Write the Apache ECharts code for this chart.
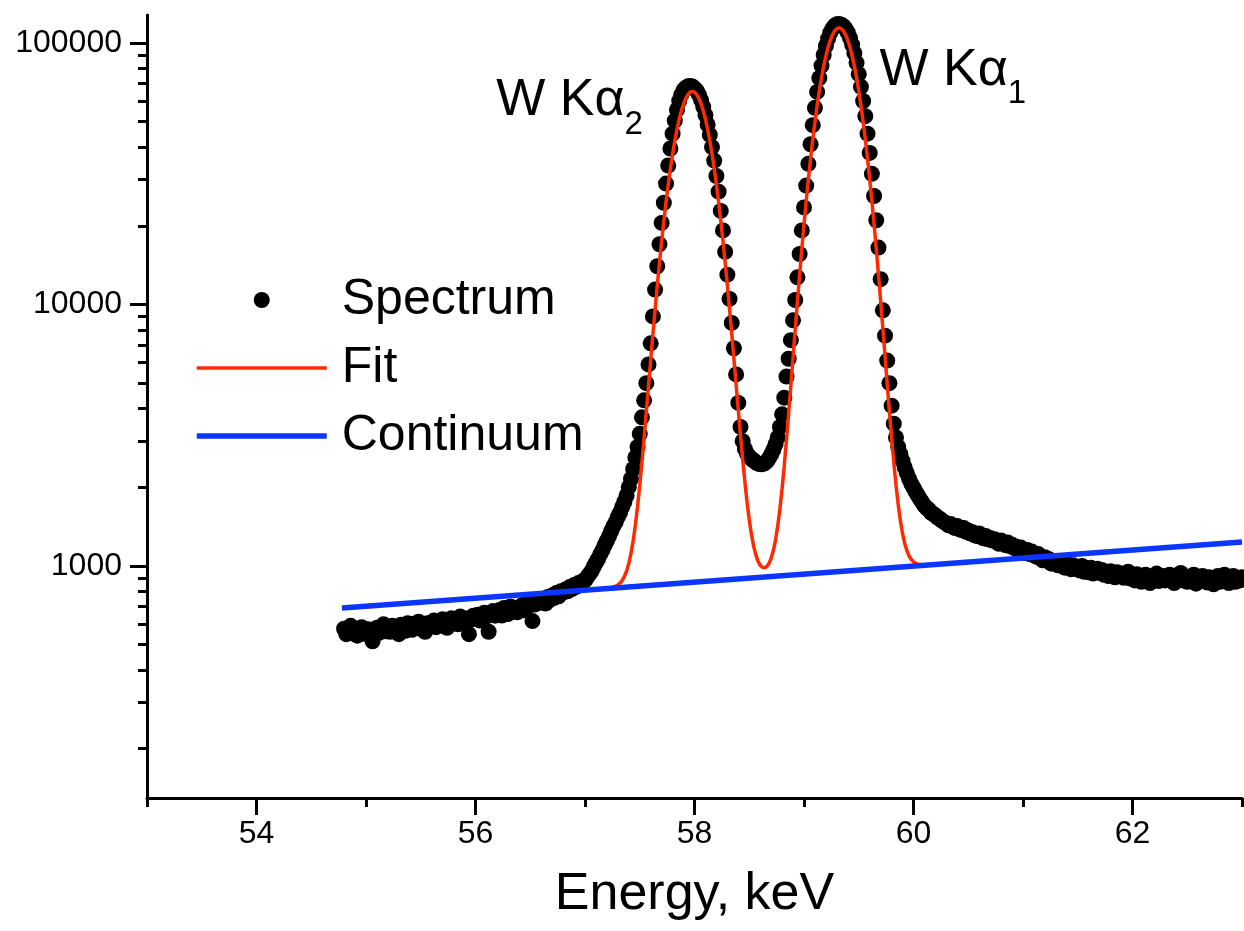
<!DOCTYPE html>
<html><head><meta charset="utf-8">
<script src="https://cdn.jsdelivr.net/npm/echarts@6/dist/echarts.min.js"></script>
<style>html,body{margin:0;padding:0;background:#fff}#c{width:1244px;height:931px}</style>
</head><body><div id="c"></div>
<script>
const FONT = '"Liberation Sans", Arial, Helvetica, sans-serif';

// ---- axis ticks ----
const xTickValues = [54, 56, 58, 60, 62];
const xMinorTickValues = [53, 55, 57, 59, 61, 63];
const yTickValues = [1000, 10000, 100000];
const yMinorTickValues = [200, 300, 400, 500, 600, 700, 800, 900,
  2000, 3000, 4000, 5000, 6000, 7000, 8000, 9000,
  20000, 30000, 40000, 50000, 60000, 70000, 80000, 90000];

// ---- measured spectrum (channel calibration: start energy + channel width, keV) ----
const spectrumStart = 54.80;
const spectrumStep = 0.02;
const spectrumCounts = [
  575, 548, 560, 590, 552, 566, 541, 570, 583, 557,
  549, 572, 560, 515, 568, 580, 555, 571, 598, 562,
  578, 560, 590, 571, 583, 548, 596, 577, 565, 604,
  588, 570, 601, 585, 612, 575, 592, 560, 603, 590,
  596, 618, 583, 605, 592, 625, 601, 580, 614, 630,
  606, 622, 598, 640, 615, 630, 608, 548, 625, 645,
  628, 650, 618, 636, 662, 640, 560, 655, 672, 645,
  660, 678, 646, 690, 668, 655, 700, 672, 688, 665,
  690, 705, 676, 718, 700, 728, 615, 712, 735, 722,
  730, 745, 718, 760, 742, 770, 755, 788, 765, 800,
  790, 812, 800, 830, 815, 845, 832, 860, 850, 875,
  880, 905, 930, 955, 995, 1030, 1065, 1110, 1150, 1200,
  1250, 1300, 1360, 1420, 1470, 1540, 1600, 1680, 1760, 1860,
  2000, 2150, 2350, 2600, 2850, 3200, 3700, 4300, 5000, 5900,
  7100, 9000, 11400, 14000, 17000, 20500, 24500, 29000, 34000, 39500,
  45000, 50500, 55500, 60000, 63500, 66000, 67500, 68300, 68500, 68200,
  67000, 65800, 63500, 60500, 57000, 53000, 48800, 44500, 40000, 35500,
  31000, 27000, 22800, 19200, 15900, 13000, 10500, 8500, 6800, 5400,
  4200, 3400, 3000, 2800, 2690, 2620, 2570, 2530, 2490, 2460,
  2450, 2450, 2470, 2510, 2580, 2670, 2780, 2920, 3100, 3400,
  3800, 4400, 5300, 6200, 7300, 8700, 10400, 12700, 15600, 19200,
  23500, 28500, 34500, 41000, 48500, 56500, 65000, 73500, 82000, 90000,
  97500, 104000, 109500, 113500, 116500, 118000, 118300, 117500, 116000, 113300,
  109500, 104500, 98500, 91500, 84000, 76000, 68000, 60000, 52500, 45000,
  38000, 31600, 26000, 21000, 16500, 12500, 9500, 7600, 6100, 5000,
  4100, 3500, 3100, 2850, 2680, 2520, 2380, 2260, 2150, 2060,
  1990, 1920, 1860, 1800, 1750, 1700, 1665, 1640, 1600, 1580,
  1560, 1530, 1515, 1490, 1470, 1455, 1430, 1445, 1410, 1395,
  1420, 1380, 1370, 1395, 1350, 1365, 1330, 1345, 1310, 1300,
  1330, 1290, 1275, 1300, 1265, 1280, 1250, 1265, 1235, 1215,
  1250, 1220, 1200, 1230, 1190, 1205, 1170, 1185, 1150, 1175,
  1140, 1120, 1150, 1110, 1135, 1100, 1085, 1110, 1070, 1050,
  1080, 1045, 1060, 1020, 1045, 1035, 1005, 1040, 1010, 985,
  1020, 995, 970, 1005, 985, 990, 960, 1000, 950, 975,
  945, 985, 935, 960, 975, 940, 965, 925, 950, 915,
  955, 930, 905, 945, 920, 935, 900, 925, 950, 895,
  915, 880, 930, 905, 870, 900, 925, 885, 860, 910,
  890, 935, 875, 900, 915, 880, 905, 925, 890, 860,
  915, 895, 940, 880, 905, 870, 910, 890, 925, 855,
  900, 880, 915, 895, 865, 905, 880, 850, 895, 915,
  870, 900, 925, 885, 860, 895, 915, 870, 900, 880,
  905
];

// ---- fit curve ----
const fitStart = 57.20;
const fitStep = 0.02;
const fitCounts = [
  820, 822, 826, 830, 836, 846, 860, 881, 911, 957,
  1022, 1116, 1248, 1434, 1689, 2034, 2495, 3102, 3889, 4889,
  6142, 7690, 9566, 11811, 14435, 17452, 20863, 24642, 28748, 33119,
  37652, 42248, 46773, 51100, 55071, 58559, 61421, 63556, 64872, 65318,
  64875, 63561, 61429, 58569, 55084, 51115, 46791, 42269, 37675, 33145,
  28776, 24673, 20897, 17488, 14474, 11852, 9610, 7736, 6191, 4941,
  3943, 3159, 2554, 2096, 1753, 1501, 1320, 1191, 1102, 1043,
  1005, 988, 983, 994, 1021, 1070, 1145, 1256, 1420, 1651,
  1975, 2422, 3030, 3839, 4905, 6290, 8049, 10249, 12972, 16272,
  20218, 24833, 30141, 36139, 42784, 50008, 57695, 65666, 73750, 81711,
  89319, 96304, 102439, 107473, 111227, 113541, 114325, 113544, 111232, 107481,
  102449, 96317, 89334, 81729, 73771, 65689, 57721, 50036, 42815, 36172,
  30177, 24872, 20259, 16316, 13018, 10298, 8101, 6344, 4962, 3898,
  3092, 2487, 2042, 1720, 1490, 1328, 1217, 1142, 1091, 1057,
  1037, 1024, 1015, 1012, 1009, 1008
];

// ---- continuum (straight line on the log plot) ----
const continuumEnergy = [54.78, 63.0];
const continuumCounts = [690, 1235];

// ---- peak labels ----
const peakLabelNames = ['W K|2', 'W K|1'];
const peakLabelEnergy = [56.19, 59.69];
const peakLabelCounts = [60000, 78500];

const toPairs = (start, step, arr) => arr.map((v, i) => [Number((start + i * step).toFixed(3)), v]);
const spectrumData = toPairs(spectrumStart, spectrumStep, spectrumCounts);
const fitData = toPairs(fitStart, fitStep, fitCounts);
const continuumData = continuumEnergy.map((e, i) => [e, continuumCounts[i]]);
const labelData = peakLabelNames.map((n, i) => ({ value: [peakLabelEnergy[i], peakLabelCounts[i]], name: n }));

const chart = echarts.init(document.getElementById('c'), null, { renderer: 'canvas' });
const black = '#000';
const RED = '#ff2a00';
const BLUE = '#0a36ff';
const axisLineStyle = { color: black, width: 3 };
const tickStyle = { color: black, width: 3 };
const tickText = { t: { fontSize: 32, fontFamily: FONT, color: black } };

chart.setOption({
  animation: false,
  backgroundColor: '#fff',
  grid: { left: 147, right: 2, top: 15, bottom: 133, containLabel: false },
  xAxis: [{
    type: 'value', min: 53, max: 63, position: 'bottom',
    axisLine: { show: true, lineStyle: axisLineStyle },
    axisTick: { show: true, customValues: xTickValues, length: 17, lineStyle: tickStyle },
    axisLabel: { customValues: xTickValues, fontSize: 32, color: black, fontFamily: FONT, margin: 20,
      formatter: v => '{t|' + Math.round(v) + '}', rich: tickText },
    splitLine: { show: false },
    name: 'Energy, keV', nameLocation: 'middle', nameGap: 71,
    nameTextStyle: { fontSize: 52, color: black, fontFamily: FONT }
  }, {
    type: 'value', min: 53, max: 63, position: 'bottom',
    axisLine: { show: false },
    axisTick: { show: true, customValues: xMinorTickValues, length: 9, lineStyle: tickStyle },
    axisLabel: { show: false },
    splitLine: { show: false }
  }],
  yAxis: [{
    type: 'log', min: 129.5, max: 128000, position: 'left',
    axisLine: { show: true, lineStyle: axisLineStyle },
    axisTick: { show: true, customValues: yTickValues, length: 17, lineStyle: tickStyle },
    axisLabel: { customValues: yTickValues, fontSize: 32, color: black, fontFamily: FONT, margin: 25,
      formatter: v => '{t|' + Math.round(v) + '}', rich: tickText },
    splitLine: { show: false }, minorTick: { show: false }, minorSplitLine: { show: false }
  }, {
    type: 'log', min: 129.5, max: 128000, position: 'left',
    axisLine: { show: false },
    axisTick: { show: true, customValues: yMinorTickValues, length: 9, lineStyle: tickStyle },
    axisLabel: { show: false },
    splitLine: { show: false }
  }],
  legend: {
    orient: 'vertical', left: 194, top: 275, padding: 0,
    itemWidth: 130, itemHeight: 16, itemGap: 18,
    textStyle: { fontSize: 50, color: black, fontFamily: FONT, lineHeight: 50, padding: [0, 0, 0, 10] },
    data: [
      { name: 'Spectrum', icon: 'circle' },
      { name: 'Fit', itemStyle: { opacity: 0 }, lineStyle: { width: 3.5, color: RED } },
      { name: 'Continuum', itemStyle: { opacity: 0 }, lineStyle: { width: 5.5, color: BLUE } }
    ]
  },
  series: [{
    name: 'Spectrum', type: 'scatter', data: spectrumData,
    symbol: 'circle', symbolSize: 16, itemStyle: { color: black, opacity: 1 }, z: 2
  }, {
    name: 'Fit', type: 'line', data: fitData, symbol: 'none', showSymbol: false,
    lineStyle: { color: RED, width: 3.5 }, itemStyle: { color: RED }, z: 3
  }, {
    name: 'Continuum', type: 'line', data: continuumData, symbol: 'none', showSymbol: false,
    lineStyle: { color: BLUE, width: 5.5 }, itemStyle: { color: BLUE }, z: 4
  }, {
    name: 'labels', type: 'scatter', data: labelData, symbolSize: 0, silent: true, z: 5,
    itemStyle: { color: black },
    label: {
      show: true, position: [0, 0], align: 'left', verticalAlign: 'middle',
      color: black, textBorderWidth: 0, opacity: 1,
      formatter: p => {
        const parts = p.name.split('|');
        return '{n|' + parts[0] + '}{g|α}{s|' + parts[1] + '}';
      },
      rich: {
        n: { fontSize: 52, fontFamily: FONT, color: black, lineHeight: 80 },
        g: { fontSize: 52, fontFamily: FONT, color: black, lineHeight: 80 },
        s: { fontSize: 33, fontFamily: FONT, color: black, lineHeight: 30, verticalAlign: 'bottom' }
      }
    },
    emphasis: { disabled: true }
  }]
});
</script>
</body></html>
